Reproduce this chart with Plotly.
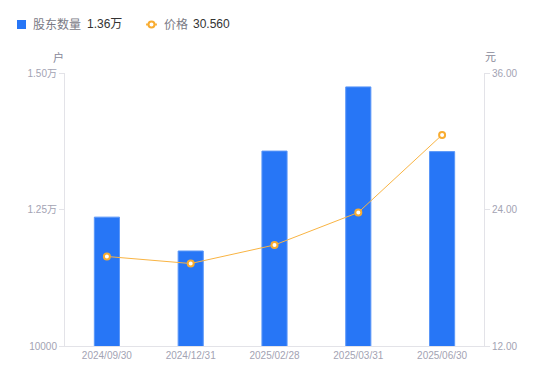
import plotly.graph_objects as go

categories = ["2024/09/30", "2024/12/31", "2025/02/28", "2025/03/31", "2025/06/30"]
holders = [12360, 11740, 13570, 14745, 13560]
prices = [19.87, 19.25, 20.88, 23.74, 30.56]

left_ticks = [10000, 12500, 15000]
left_tick_text = ["10000", "1.25万", "1.50万"]
right_ticks = [12, 24, 36]
right_tick_text = ["12.00", "24.00", "36.00"]

legend_names = ["股东数量", "价格"]
legend_values = ["1.36万", "30.560"]

W, H = 550, 381
ML, MR, MT, MB = 65, 66, 73, 35
PW, PH = W - ML - MR, H - MT - MB


def px_x(px):
    return (px - ML) / PW


def px_y(py):
    return (H - MB - py) / PH


FONT = "Liberation Sans, Arial, Noto Sans CJK SC, sans-serif"
TICK_COLOR = "#a3a3b3"
AXIS_COLOR = "#e3e3e8"
BAR_COLOR = "#2776f6"
LINE_COLOR = "#f9b443"

fig = go.Figure()
fig.add_trace(go.Bar(
    x=categories, y=holders, name=legend_names[0],
    marker=dict(color=BAR_COLOR, line=dict(color="#5b97f8", width=1)),
    width=0.3, yaxis="y",
))
fig.add_trace(go.Scatter(
    x=categories, y=prices, name=legend_names[1],
    mode="lines+markers",
    line=dict(color=LINE_COLOR, width=1),
    marker=dict(symbol="circle", size=6, color="white", line=dict(color="#f8ac30", width=2)),
    yaxis="y2",
))

shapes = [
    dict(type="rect", xref="paper", yref="paper",
         x0=px_x(17), x1=px_x(26), y0=px_y(29), y1=px_y(20),
         fillcolor=BAR_COLOR, line=dict(width=0)),
    dict(type="line", xref="paper", yref="paper",
         x0=px_x(146), x1=px_x(157), y0=px_y(24.5), y1=px_y(24.5),
         line=dict(color=LINE_COLOR, width=2)),
    dict(type="circle", xref="paper", yref="paper",
         x0=px_x(148.5), x1=px_x(154.5), y0=px_y(27.5), y1=px_y(21.5),
         fillcolor="white", line=dict(color="#f8ac30", width=2)),
]

ann = [
    dict(text=legend_names[0], x=px_x(31), y=px_y(24.5), xanchor="left", yanchor="middle",
         font=dict(size=12, color="#7a7a85")),
    dict(text=legend_values[0], x=px_x(85), y=px_y(24.5), xanchor="left", yanchor="middle",
         font=dict(size=12, color="#333333")),
    dict(text=legend_names[1], x=px_x(162), y=px_y(24.5), xanchor="left", yanchor="middle",
         font=dict(size=12, color="#7a7a85")),
    dict(text=legend_values[1], x=px_x(191), y=px_y(24.5), xanchor="left", yanchor="middle",
         font=dict(size=12, color="#333333")),
    dict(text="户", x=px_x(58), y=px_y(57), xanchor="center", yanchor="middle",
         font=dict(size=11, color="#888899")),
    dict(text="元", x=px_x(490), y=px_y(57), xanchor="center", yanchor="middle",
         font=dict(size=11, color="#888899")),
]
for a in ann:
    a.update(xref="paper", yref="paper", showarrow=False)

fig.update_layout(
    width=W, height=H,
    margin=dict(l=ML, r=MR, t=MT, b=MB, autoexpand=False),
    paper_bgcolor="white", plot_bgcolor="white",
    font=dict(family=FONT, size=10, color=TICK_COLOR),
    showlegend=False,
    hovermode=False,
    xaxis=dict(
        showgrid=False, showline=True, linecolor=AXIS_COLOR, linewidth=1,
        ticks="", tickfont=dict(size=10, color=TICK_COLOR),
        zeroline=False,
    ),
    yaxis=dict(
        range=[10000, 15000], tickvals=left_ticks, ticktext=left_tick_text,
        showgrid=False, showline=True, linecolor=AXIS_COLOR, linewidth=1,
        ticks="outside", ticklen=5, tickcolor=AXIS_COLOR,
        tickfont=dict(size=10, color=TICK_COLOR), zeroline=False,
    ),
    yaxis2=dict(
        range=[12, 36], tickvals=right_ticks, ticktext=right_tick_text,
        overlaying="y", side="right",
        showgrid=False, showline=True, linecolor=AXIS_COLOR, linewidth=1,
        ticks="outside", ticklen=5, tickcolor=AXIS_COLOR,
        tickfont=dict(size=10, color=TICK_COLOR), zeroline=False,
    ),
    shapes=shapes,
    annotations=ann,
)

fig.write_html(
    "out.html",
    config={"displayModeBar": False, "staticPlot": True},
    post_script="document.body.style.margin='0';document.body.style.padding='0';",
)
